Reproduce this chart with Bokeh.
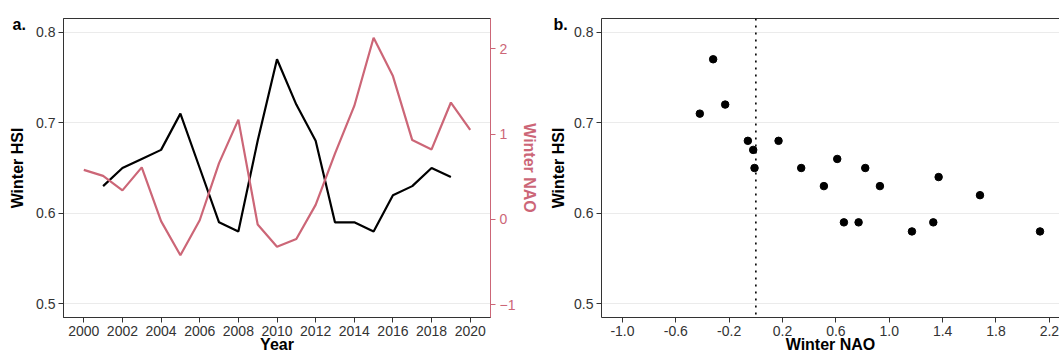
from bokeh.plotting import figure
from bokeh.models import Range1d, LinearAxis, FixedTicker, PrintfTickFormatter, Span
from bokeh.layouts import row
from bokeh.embed import file_html
from bokeh.resources import INLINE

# Winter NAO index, 2000-2020
nao_years = list(range(2000, 2021))
nao = [0.58, 0.51, 0.34, 0.61, -0.02, -0.42, -0.01, 0.66, 1.17, -0.06, -0.32,
       -0.23, 0.17, 0.77, 1.33, 2.13, 1.68, 0.93, 0.82, 1.37, 1.05]

# Winter habitat suitability index, 2001-2019
hsi_years = list(range(2001, 2020))
hsi = [0.63, 0.65, 0.66, 0.67, 0.71, 0.65, 0.59, 0.58, 0.68, 0.77,
       0.72, 0.68, 0.59, 0.59, 0.58, 0.62, 0.63, 0.65, 0.64]

# NAO value for each HSI year (for the scatter panel)
nao_by_year = dict(zip(nao_years, nao))
nao_matched = [nao_by_year[y] for y in hsi_years]

hsi_ticks = [0.5, 0.6, 0.7, 0.8]
nao_ticks = [-1, 0, 1, 2]
year_ticks = list(range(2000, 2021, 2))
nao_x_ticks = [-1.0, -0.6, -0.2, 0.2, 0.6, 1.0, 1.4, 1.8, 2.2]

RED = "#CC6677"
FRAME = "#333333"
TICKTXT = "#333333"
GRID = "#EBEBEB"
FONT = "Liberation Sans"


def style_axis(ax, color=FRAME, label_color="black"):
    ax.axis_line_color = color
    ax.major_tick_line_color = color
    ax.major_tick_out = 5
    ax.major_tick_in = 0
    ax.minor_tick_line_color = None
    ax.major_label_text_font = FONT
    ax.major_label_text_font_size = "14px"
    ax.major_label_text_color = TICKTXT if color == FRAME else color
    ax.major_label_standoff = 3
    ax.axis_label_text_font = FONT
    ax.axis_label_text_font_size = "16px"
    ax.axis_label_text_font_style = "bold"
    ax.axis_label_text_color = label_color


def panel_tag(p, text, shift):
    # bold panel letter, pulled left of the frame and down beside its top edge
    p.title.text = text
    p.title.align = "left"
    p.title.offset = shift
    p.title.standoff = -28
    p.title.text_font = FONT
    p.title.text_font_size = "16px"
    p.title.text_font_style = "bold"
    p.title.text_color = "black"


# ---- panel a: time series with secondary NAO axis ----
pa = figure(width=545, height=355, output_backend="svg", toolbar_location=None,
            x_range=Range1d(1998.95, 2021.05), y_range=Range1d(0.485, 0.815),
            min_border_left=63, min_border_right=55, min_border_top=18,
            min_border_bottom=38)
pa.extra_y_ranges = {"nao": Range1d(-1.15, 2.355)}
pa.outline_line_color = FRAME
pa.xgrid.visible = False
pa.ygrid.grid_line_color = GRID
pa.ygrid.grid_line_width = 1.2

pa.line(hsi_years, hsi, line_color="black", line_width=2.2)
pa.line(nao_years, nao, line_color=RED, line_width=2.2, y_range_name="nao")

pa.xaxis.ticker = FixedTicker(ticks=year_ticks)
pa.yaxis.ticker = FixedTicker(ticks=hsi_ticks)
pa.xaxis.axis_label = "Year"
pa.yaxis.axis_label = "Winter HSI"
style_axis(pa.xaxis[0])
style_axis(pa.yaxis[0])
pa.xaxis.axis_label_standoff = -3
pa.yaxis.axis_label_standoff = 7

nao_axis = LinearAxis(y_range_name="nao", axis_label="Winter NAO",
                      ticker=FixedTicker(ticks=nao_ticks))
style_axis(nao_axis, color=RED, label_color=RED)
nao_axis.major_label_standoff = 4
nao_axis.axis_label_standoff = 3
pa.add_layout(nao_axis, "right")

panel_tag(pa, "a.", -51)

# ---- panel b: HSI against NAO ----
pb = figure(width=514, height=355, output_backend="svg", toolbar_location=None,
            x_range=Range1d(-1.157, 2.276), y_range=Range1d(0.485, 0.815),
            min_border_left=56, min_border_right=0, min_border_top=18,
            min_border_bottom=38)
pb.outline_line_color = None
pb.xgrid.visible = False
pb.ygrid.grid_line_color = GRID
pb.ygrid.grid_line_width = 1.2

pb.add_layout(Span(location=0, dimension="height", line_color="black",
                   line_width=1.6, line_dash="2 5"))
pb.scatter(nao_matched, hsi, size=7.5, fill_color="black", line_color="black")

pb.xaxis.ticker = FixedTicker(ticks=nao_x_ticks)
pb.xaxis.formatter = PrintfTickFormatter(format="%.1f")
pb.yaxis.ticker = FixedTicker(ticks=hsi_ticks)
pb.xaxis.axis_label = "Winter NAO"
pb.yaxis.axis_label = "Winter HSI"
style_axis(pb.xaxis[0])
style_axis(pb.yaxis[0])
pb.xaxis.axis_label_standoff = -3
pb.yaxis.axis_label_standoff = 4

top_edge = LinearAxis(ticker=FixedTicker(ticks=[]))
top_edge.axis_line_color = FRAME
top_edge.major_tick_line_color = None
top_edge.minor_tick_line_color = None
top_edge.major_label_text_font_size = "0px"
pb.add_layout(top_edge, "above")

panel_tag(pb, "b.", -48)

layout = row(pa, pb, spacing=0)
open("out.html", "w").write(file_html(layout, INLINE))
